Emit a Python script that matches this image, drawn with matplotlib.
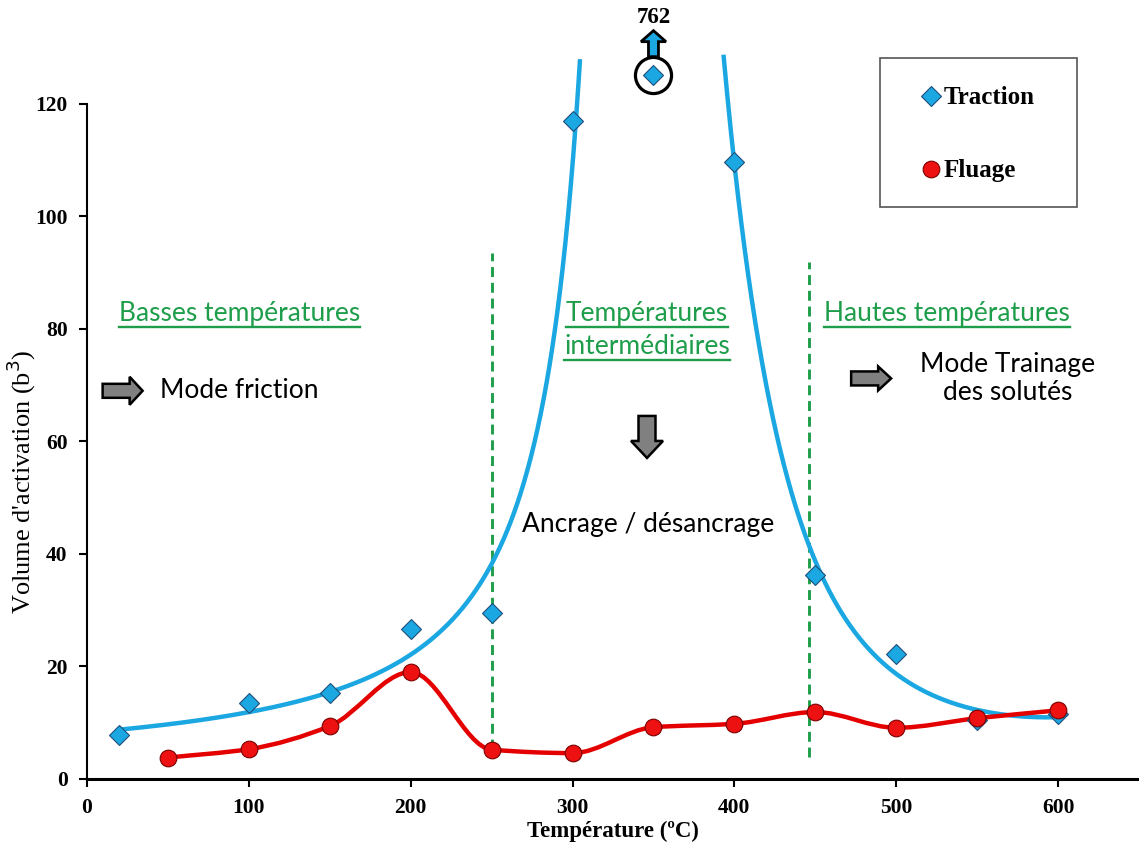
import numpy as np
import matplotlib
matplotlib.use("Agg")
import matplotlib.pyplot as plt
from matplotlib.path import Path
from matplotlib.patches import PathPatch, Polygon, Rectangle
from matplotlib.lines import Line2D
from matplotlib.transforms import ScaledTranslation

# données : volume d'activation en fonction de la température
traction_T = [20, 100, 150, 200, 250, 300, 350, 400, 450, 500, 550, 600]
traction_V = [7.8, 13.5, 15.3, 26.7, 29.5, 117, 762, 109.7, 36.3, 22.2, 10.4, 11.6]
fluage_T = [50, 100, 150, 200, 250, 300, 350, 400, 450, 500, 550, 600]
fluage_V = [3.8, 5.3, 9.4, 19.0, 5.2, 4.6, 9.2, 9.8, 11.9, 9.1, 10.8, 12.2]

T_PIC = 350          # température du pic (hors échelle)
limites = [250, 446]  # séparation des domaines

X_MAX, Y_MAX = 650, 120
Y_HORS = 125.2       # hauteur d'affichage d'un point hors échelle
Y_COUPE = 129        # la courbe bleue s'arrête ici

BLEU = '#1BA7E1'
ROUGE = '#E50000'
VERT = '#1E9E4A'
SERIF = 'Liberation Serif'
SANS = 'Lato'

fig = plt.figure(figsize=(11.39, 8.56), dpi=100)
ax = fig.add_axes([0.0764, 0.09, 0.9236, 0.7886])
ax.set_xlim(0, X_MAX)
ax.set_ylim(0, Y_MAX)


def lisse(x, y):
    # courbe lissée sans dépassement (pentes de Fritsch-Carlson), en segments de Bézier
    x = np.asarray(x, float)
    y = np.asarray(y, float)
    h = np.diff(x)
    delta = np.diff(y) / h
    d = np.zeros_like(y)
    d[0], d[-1] = delta[0], delta[-1]
    for i in range(1, len(y) - 1):
        a, b = delta[i - 1], delta[i]
        if a * b > 0:
            d[i] = 2 / (1 / a + 1 / b)
    verts = [(x[0], y[0])]
    codes = [Path.MOVETO]
    for i in range(len(h)):
        c1 = (x[i] + h[i] / 3, y[i] + d[i] * h[i] / 3)
        c2 = (x[i + 1] - h[i] / 3, y[i + 1] - d[i + 1] * h[i] / 3)
        verts += [c1, c2, (x[i + 1], y[i + 1])]
        codes += [Path.CURVE4] * 3
    return Path(verts, codes)


def tendance(T, V, cote, loglog=True):
    # ajustement quadratique de log(V) de part et d'autre du pic
    T = np.asarray(T, float)
    V = np.asarray(V, float)
    f = np.log if loglog else (lambda d: d)
    c = np.polyfit(f(np.abs(T - T_PIC)), np.log(V), 2)
    if cote < 0:
        tt = np.linspace(T.min(), T_PIC - 1, 800)
    else:
        tt = np.linspace(T_PIC + 1, T.max(), 800)
    vv = np.exp(np.polyval(c, f(np.abs(tt - T_PIC))))
    ok = vv <= Y_COUPE
    return tt[ok], vv[ok]


tT = np.array(traction_T)
tV = np.array(traction_V)
gauche = tT < T_PIC
droite = tT > T_PIC
for masque, cote, ll in [(gauche, -1, True), (droite, 1, False)]:
    xx, yy = tendance(tT[masque], tV[masque], cote, ll)
    ax.plot(xx, yy, color=BLEU, lw=3.2, clip_on=False, zorder=3)

ax.add_patch(PathPatch(lisse(fluage_T, fluage_V), fc='none', ec=ROUGE, lw=3.2, zorder=3))

# points
dans = tV <= Y_MAX
ax.plot(tT[dans], tV[dans], ls='none', marker='D', ms=10.5, mfc=BLEU, mec='#1F4E79',
        mew=0.8, zorder=4)
ax.plot(fluage_T, fluage_V, ls='none', marker='o', ms=12, mfc='#EE1111', mec='#7A0000',
        mew=0.8, zorder=5)

# point hors échelle : entouré, avec flèche et valeur
for t, v in zip(tT[~dans], tV[~dans]):
    ax.plot([t], [Y_HORS], ls='none', marker='D', ms=10.5, mfc=BLEU, mec='#1F4E79',
            mew=0.8, clip_on=False, zorder=6)
    ax.plot([t], [Y_HORS], ls='none', marker='o', ms=26, mfc='none', mec='black',
            mew=2.3, clip_on=False, zorder=6)
    tr = fig.dpi_scale_trans + ScaledTranslation(t, Y_HORS, ax.transData)
    fl = np.array([[-5, 18], [-5, 33], [-12.5, 33], [0, 44], [12.5, 33], [5, 33], [5, 18]]) / 100
    ax.add_patch(Polygon(fl, closed=True, fc=BLEU, ec='black', lw=2, transform=tr,
                         clip_on=False, zorder=6))
    ax.annotate(f'{v:.0f}', xy=(t, Y_HORS), xytext=(0, 41.5), textcoords='offset points',
                ha='center', va='center', fontsize=16.5, fontweight='bold', family=SERIF,
                annotation_clip=False)

# limites des domaines
ax.plot([limites[0]] * 2, [5.3, 93.5], ls=(0, (3.4, 2)), color=VERT, lw=2.1, zorder=2)
ax.plot([limites[1]] * 2, [3.9, 91.9], ls=(0, (3.4, 2)), color=VERT, lw=2.1, zorder=2)

# axes
for s in ['top', 'right']:
    ax.spines[s].set_visible(False)
ax.spines['left'].set_linewidth(1.5)
ax.spines['bottom'].set_linewidth(2.2)
ax.set_xticks(range(0, 601, 100))
ax.set_yticks(range(0, 121, 20))
ax.tick_params(axis='both', direction='out', length=6, width=1.5, pad=8)
for lab in ax.get_xticklabels() + ax.get_yticklabels():
    lab.set_family(SERIF)
    lab.set_fontweight('bold')
    lab.set_fontsize(15.5)
ax.set_xlabel('Température (ºC)', family=SERIF, fontweight='bold', fontsize=16.5, labelpad=2)
ax.set_ylabel("Volume d'activation (b$^3$)", family=SERIF, fontsize=19)
ax.yaxis.set_label_coords(-0.047, 0.44)

# titres des domaines (soulignés) et commentaires
titres = [
    (94, 82.8, 'Basses températures'),
    (346, 82.8, 'Températures'),
    (346, 76.8, 'intermédiaires'),
    (531.5, 82.8, 'Hautes températures'),
]
objets = [ax.text(x, y, s, ha='center', va='center', color=VERT, fontsize=19, family=SANS)
          for x, y, s in titres]

ax.text(45, 69, 'Mode friction', ha='left', va='center', fontsize=19, family=SANS)
ax.text(568.6, 71.2, 'Mode Trainage\ndes solutés', ha='center', va='center', fontsize=19,
        family=SANS, linespacing=1.15)
ax.text(346.7, 45.2, 'Ancrage / désancrage', ha='center', va='center', fontsize=19,
        family=SANS)


def fleche(x, y, longueur, corps, tete, l_tete, angle):
    # flèche pleine grise, dimensions en pixels
    L = longueur / 2
    pts = np.array([[-L, -corps / 2], [L - l_tete, -corps / 2], [L - l_tete, -tete / 2],
                    [L, 0], [L - l_tete, tete / 2], [L - l_tete, corps / 2], [-L, corps / 2]])
    a = np.deg2rad(angle)
    rot = np.array([[np.cos(a), -np.sin(a)], [np.sin(a), np.cos(a)]])
    pts = pts @ rot.T / 100
    tr = fig.dpi_scale_trans + ScaledTranslation(x, y, ax.transData)
    ax.add_patch(Polygon(pts, closed=True, fc='#808080', ec='black', lw=1.8, transform=tr,
                         zorder=5))


fleche(22, 69, 40, 14, 28, 13, 0)
fleche(484.5, 71.2, 40, 14, 24, 13, 0)
fleche(346, 60.8, 42, 17, 32, 17, -90)

# légende
leg = Rectangle((880 / 1139, 1 - 207 / 856), 197 / 1139, 149 / 856, transform=fig.transFigure,
                fc='white', ec='#555555', lw=1.2)
fig.add_artist(leg)
fig.add_artist(Line2D([931 / 1139], [1 - 96 / 856], transform=fig.transFigure, ls='none',
                      marker='D', ms=10.5, mfc=BLEU, mec='#1F4E79', mew=0.8))
fig.add_artist(Line2D([931 / 1139], [1 - 169 / 856], transform=fig.transFigure, ls='none',
                      marker='o', ms=12, mfc='#EE1111', mec='#7A0000', mew=0.8))
fig.text(944 / 1139, 1 - 98 / 856, 'Traction', ha='left', va='center', fontsize=18,
         fontweight='bold', family=SERIF)
fig.text(944 / 1139, 1 - 171 / 856, 'Fluage', ha='left', va='center', fontsize=18,
         fontweight='bold', family=SERIF)

# soulignement des titres
fig.canvas.draw()
rend = fig.canvas.get_renderer()
for t in objets:
    bb = t.get_window_extent(rend)
    (x0, y0), (x1, _) = fig.transFigure.inverted().transform([[bb.x0, bb.y0 - 1], [bb.x1, bb.y1]])
    fig.add_artist(Line2D([x0, x1], [y0, y0], transform=fig.transFigure, color=VERT, lw=1.7))

fig.savefig('out.png', dpi=100)
